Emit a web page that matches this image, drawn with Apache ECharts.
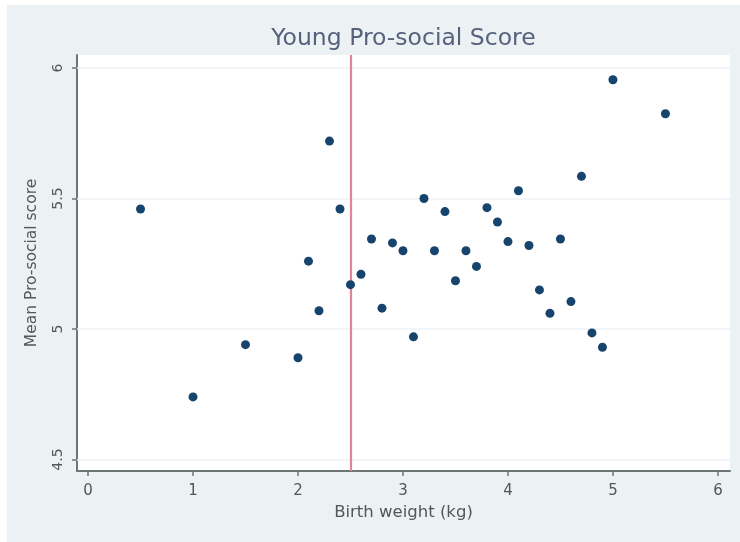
<!DOCTYPE html>
<html>
<head>
<meta charset="utf-8">
<title>Young Pro-social Score</title>
<script src="https://cdn.jsdelivr.net/npm/echarts@6/dist/echarts.min.js"></script>
<style>
  html, body { margin: 0; padding: 0; background: #ffffff; width: 740px; height: 542px; overflow: hidden; }
  #chart { position: absolute; left: 7px; top: 5px; width: 733px; height: 537px; }
</style>
</head>
<body>
<div id="chart"></div>
<script>
// Birth weight (kg) and mean pro-social score per group
const birthWeight = [0.5, 1.0, 1.5, 2.0, 2.1, 2.2, 2.3, 2.4, 2.5, 2.6, 2.7, 2.8, 2.9, 3.0, 3.1, 3.2, 3.3, 3.4,
                     3.5, 3.6, 3.7, 3.8, 3.9, 4.0, 4.1, 4.2, 4.3, 4.4, 4.5, 4.6, 4.7, 4.8, 4.9, 5.0, 5.5];
const meanScore = [5.46, 4.74, 4.94, 4.89, 5.26, 5.07, 5.72, 5.46, 5.17, 5.21, 5.345, 5.08, 5.33, 5.30, 4.97, 5.50, 5.30, 5.45,
                   5.185, 5.30, 5.24, 5.465, 5.41, 5.335, 5.53, 5.32, 5.15, 5.06, 5.345, 5.105, 5.585, 4.985, 4.93, 5.955, 5.825];

// Axis ticks
const xTicks = [0, 1, 2, 3, 4, 5, 6];
const yTicks = [4.5, 5, 5.5, 6];
const yTickLabels = ['4.5', '5', '5.5', '6'];

// Low-birth-weight cut-off
const cutoff = 2.5;

const axisColor = '#6f7678';
const labelColor = '#52575a';
const font = '"DejaVu Sans", sans-serif';

const gridLeft = 70, gridRight = 10;

const points = birthWeight.map((w, i) => [w, meanScore[i]]);

const el = document.getElementById('chart');
const chart = echarts.init(el, null, { renderer: 'canvas' });

// title sits roughly centred over the plot area rather than the whole canvas
const plotCentre = gridLeft + (el.clientWidth - gridLeft - gridRight) / 2 - 5;

chart.setOption({
  backgroundColor: '#ecf1f3',
  animation: false,
  title: {
    text: 'Young Pro-social Score',
    left: plotCentre,
    textAlign: 'center',
    top: 17,
    textStyle: { color: '#56607f', fontFamily: font, fontSize: 23.5, fontWeight: 'normal' }
  },
  grid: {
    left: gridLeft, right: gridRight, top: 50, bottom: 71,
    show: true, backgroundColor: '#ffffff', borderWidth: 0
  },
  xAxis: {
    type: 'value',
    min: -0.105,
    max: 6.115,
    name: 'Birth weight (kg)',
    nameLocation: 'middle',
    nameGap: 32,
    nameTextStyle: { color: labelColor, fontFamily: font, fontSize: 16.5 },
    axisLine: { show: true, onZero: false, lineStyle: { color: axisColor, width: 2 } },
    axisTick: { show: true, customValues: xTicks, length: 5, lineStyle: { color: axisColor, width: 1.5 } },
    axisLabel: { customValues: xTicks, margin: 13, color: labelColor, fontFamily: font, fontSize: 15 },
    splitLine: { show: false }
  },
  yAxis: {
    type: 'value',
    min: 4.456,
    max: 6.05,
    name: 'Mean Pro-social score',
    nameLocation: 'middle',
    nameGap: 37,
    nameTextStyle: { color: labelColor, fontFamily: font, fontSize: 15.5 },
    axisLine: { show: true, onZero: false, lineStyle: { color: axisColor, width: 2 } },
    axisTick: { show: true, customValues: yTicks, length: 5, lineStyle: { color: axisColor, width: 1.5 } },
    axisLabel: {
      customValues: yTicks,
      rotate: 90,
      margin: 12,
      color: labelColor,
      fontFamily: font,
      fontSize: 14,
      formatter: v => yTickLabels[yTicks.indexOf(+v.toFixed(2))] ?? String(v)
    },
    splitLine: { show: false }
  },
  series: [
    {
      // horizontal grid lines and the cut-off line
      type: 'line',
      data: [],
      silent: true,
      markLine: {
        symbol: 'none',
        silent: true,
        label: { show: false },
        data: yTicks.map(v => ({ yAxis: v, lineStyle: { color: '#eef2f4', width: 1.5, type: 'solid' } }))
          .concat([{ xAxis: cutoff, lineStyle: { color: '#e2849a', width: 2.2, type: 'solid' } }])
      }
    },
    {
      type: 'scatter',
      data: points,
      symbol: 'circle',
      symbolSize: 9,
      itemStyle: { color: '#17446d', opacity: 1 },
      z: 5
    }
  ]
});
</script>
</body>
</html>
